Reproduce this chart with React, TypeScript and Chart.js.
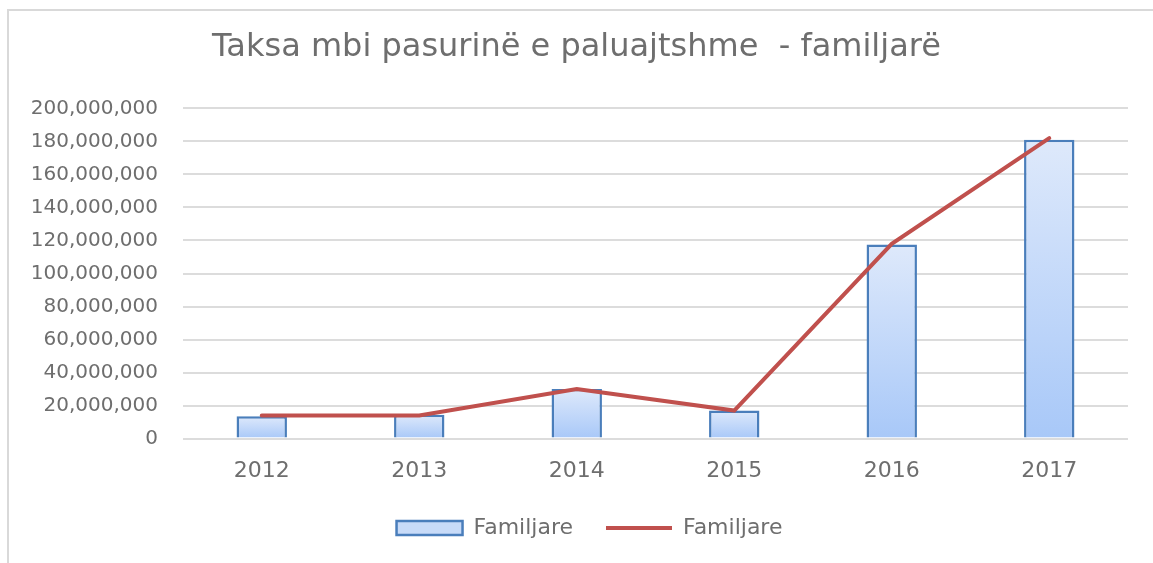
import React, { useEffect, useRef } from "react";
import { Chart, registerables } from "chart.js";

Chart.register(...registerables);

const categories = ["2012", "2013", "2014", "2015", "2016", "2017"];
const barValues = [13500000, 14500000, 30000000, 17000000, 117500000, 181000000];
const lineValues = [14000000, 14000000, 30000000, 17000000, 118000000, 182000000];
const seriesBarLabel = "Familjare";
const seriesLineLabel = "Familjare";
const titleText = "Taksa mbi pasurinë e paluajtshme  - familjarë";
const yMax = 200000000;
const yStep = 20000000;

const FONT = "'DejaVu Sans', sans-serif";
const TEXT = "#6e6e6e";

const legendShift = {
  id: "legendShift",
  afterLayout(chart: any) {
    const l = chart.legend;
    if (l) {
      l.left += 13;
      l.right += 13;
    }
  },
};

export default function App() {
  const ref = useRef<HTMLCanvasElement | null>(null);

  useEffect(() => {
    const canvas = ref.current;
    if (!canvas) return;
    const chart = new Chart(canvas, {
      type: "bar",
      data: {
        labels: categories,
        datasets: [
          {
            type: "bar",
            label: seriesBarLabel,
            data: barValues,
            order: 1,
            backgroundColor: (ctx: any) => {
              const c = ctx.chart;
              const area = c.chartArea;
              if (!area || ctx.type !== "data") return "#c6daf7";
              const y = c.scales.y;
              const top = y.getPixelForValue(ctx.raw as number);
              const bottom = y.getPixelForValue(0);
              const g = c.ctx.createLinearGradient(0, top, 0, bottom);
              g.addColorStop(0, "#dee9fb");
              g.addColorStop(1, "#a8c8f8");
              return g;
            },
            borderColor: "#4a7ebb",
            borderWidth: 2.5,
            borderSkipped: "bottom",
            barPercentage: 0.32,
            categoryPercentage: 1,
          },
          {
            type: "line",
            label: seriesLineLabel,
            data: lineValues,
            order: 0,
            borderColor: "#c0504d",
            backgroundColor: "#c0504d",
            borderWidth: 4,
            pointRadius: 0,
            tension: 0,
            borderCapStyle: "round",
          },
        ],
      } as any,
      options: {
        responsive: false,
        animation: false,
        layout: { padding: { left: 25, right: 25, top: 0, bottom: 8 } },
        scales: {
          x: {
            offset: true,
            grid: { display: false, drawTicks: false },
            border: { display: false },
            ticks: { padding: 19, color: TEXT, font: { family: FONT, size: 22 } },
            afterFit: (scale: any) => {
              scale.height = 45.4;
            },
          },
          y: {
            min: 0,
            max: yMax,
            grid: { color: "#dcdcdc", lineWidth: 2, drawTicks: false },
            border: { display: false },
            ticks: {
              stepSize: yStep,
              padding: 25,
              color: TEXT,
              font: { family: FONT, size: 20 },
              callback: (v: any) => Number(v).toLocaleString("en-US"),
            },
            afterFit: (scale: any) => {
              scale.width = 158;
            },
          },
        },
        plugins: {
          title: {
            display: true,
            text: titleText,
            color: TEXT,
            font: { family: FONT, size: 32, weight: "normal" },
            padding: { top: 28, bottom: 42 },
          },
          legend: {
            position: "bottom",
            labels: {
              color: TEXT,
              font: { family: FONT, size: 22 },
              usePointStyle: true,
              pointStyleWidth: 66,
              boxHeight: 14,
              padding: 33,
              generateLabels: (c: any) => {
                const items = Chart.defaults.plugins.legend.labels.generateLabels(c);
                items.forEach((it: any, i: number) => {
                  if (i === 0) {
                    it.pointStyle = "rect";
                    it.fillStyle = "#c8dbf8";
                    it.strokeStyle = "#4a7ebb";
                    it.lineWidth = 2.5;
                  } else {
                    it.pointStyle = "line";
                    it.fillStyle = "#c0504d";
                    it.strokeStyle = "#c0504d";
                    it.lineWidth = 4;
                  }
                });
                return items;
              },
            },
          },
          tooltip: { enabled: false },
        },
      } as any,
      plugins: [legendShift],
    });
    return () => chart.destroy();
  }, []);

  return (
    <div
      style={{
        position: "fixed",
        left: 0,
        top: 0,
        width: 1153,
        height: 563,
        overflow: "hidden",
        background: "#ffffff",
      }}
    >
      <div
        style={{
          position: "absolute",
          left: 7,
          top: 9,
          width: 1300,
          height: 700,
          borderLeft: "2px solid #d9d9d9",
          borderTop: "2px solid #d9d9d9",
        }}
      />
      <canvas
        ref={ref}
        width={1153}
        height={557}
        style={{ position: "absolute", left: 0, top: 0, width: 1153, height: 557 }}
      />
    </div>
  );
}
